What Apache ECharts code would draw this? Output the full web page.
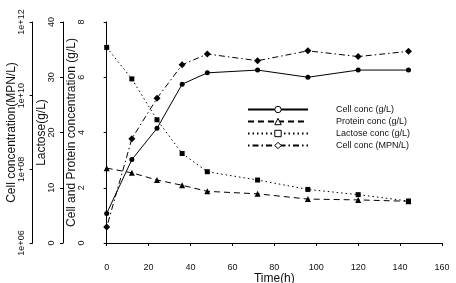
<!DOCTYPE html>
<html>
<head>
<meta charset="utf-8">
<script src="https://cdn.jsdelivr.net/npm/echarts@6/dist/echarts.min.js"></script>
<style>
  html, body { margin: 0; padding: 0; background: #fff; }
  #main { width: 456px; height: 283px; }
</style>
</head>
<body>
<div id="main"></div>
<script>
// time points (h)
var hours = [0, 12, 24, 36, 48, 72, 96, 120, 144];
// cell conc (g/L) - inner axis
var cellGL = [1.07, 3.02, 4.15, 5.75, 6.16, 6.26, 6.0, 6.26, 6.26];
// protein conc (g/L) - inner axis
var proteinGL = [2.71, 2.54, 2.28, 2.09, 1.87, 1.78, 1.59, 1.56, 1.51];
// lactose conc (g/L) - middle axis
var lactoseGL = [35.4, 29.7, 22.3, 16.2, 12.9, 11.4, 9.7, 8.75, 7.6];
// cell conc (MPN/L) - outer log axis
var cellMPN = [2.7e6, 6.8e8, 8.5e9, 6.9e10, 1.35e11, 8.9e10, 1.65e11, 1.15e11, 1.6e11];

var seriesNames = ['Cell conc (g/L)', 'Protein conc (g/L)', 'Lactose conc (g/L)', 'Cell conc (MPN/L)'];

function pairs(ys) {
    return hours.map(function (h, i) { return [h, ys[i]]; });
}

var font = 'Liberation Sans, Arial, sans-serif';
var ink = '#000';

function yAxis(offset, extra) {
    var a = {
        type: 'value',
        position: 'left',
        offset: offset,
        nameLocation: 'middle',
        nameRotate: 90,
        nameGap: 15,
        nameMoveOverlap: false,
        nameTextStyle: { fontFamily: font, fontSize: 12, color: '#111' },
        axisLine: { show: true, lineStyle: { color: ink, width: 1 } },
        axisTick: { show: true, length: 3, lineStyle: { color: ink } },
        axisLabel: { rotate: 90, margin: 7, fontFamily: font, fontSize: 9, color: '#111' },
        splitLine: { show: false }
    };
    for (var k in extra) a[k] = extra[k];
    return a;
}

var chart = echarts.init(document.getElementById('main'), null, { renderer: 'canvas' });

chart.setOption({
    animation: false,
    backgroundColor: '#fff',
    grid: { left: 106.7, right: 14, top: 22, bottom: 40, containLabel: false, outerBoundsMode: 'none' },
    legend: {
        orient: 'vertical',
        left: 242,
        top: 100,
        itemWidth: 60,
        itemHeight: 8,
        itemGap: 3,
        textStyle: { fontFamily: font, fontSize: 9, color: '#111', padding: [0, 0, 0, 23] },
        data: seriesNames.map(function (n) {
            return { name: n, itemStyle: { color: '#fff', borderColor: ink, borderWidth: 1 } };
        })
    },
    xAxis: {
        type: 'value',
        min: 0,
        max: 160,
        interval: 20,
        offset: 10,
        name: 'Time(h)',
        nameLocation: 'middle',
        nameGap: 20,
        nameMoveOverlap: false,
        nameTextStyle: { fontFamily: font, fontSize: 12, color: '#111' },
        axisLine: { show: true, lineStyle: { color: ink, width: 1 } },
        axisTick: { show: true, length: 3, lineStyle: { color: ink } },
        axisLabel: { margin: 10, fontFamily: font, fontSize: 9, color: '#111' },
        splitLine: { show: false }
    },
    yAxis: [
        yAxis(14, { min: 0, max: 8, interval: 2, name: 'Cell and Protein concentration (g/L)' }),
        yAxis(43.7, { min: 0, max: 40, interval: 10, name: 'Lactose(g/L)' }),
        yAxis(74, {
            type: 'log', logBase: 10, min: 1e6, max: 1e12, interval: 2,
            name: 'Cell concentration(MPN/L)',
            axisLabel: {
                rotate: 90, margin: 7, fontFamily: font, fontSize: 9, color: '#111',
                formatter: function (v) {
                    var e = Math.round(Math.log(v) / Math.LN10);
                    return '1e+' + (e < 10 ? '0' + e : e);
                }
            }
        })
    ],
    series: [
        {
            name: seriesNames[0], type: 'line', yAxisIndex: 0, data: pairs(cellGL),
            symbol: 'circle', symbolSize: 5,
            itemStyle: { color: ink },
            lineStyle: { color: ink, width: 1, type: 'solid' }
        },
        {
            name: seriesNames[1], type: 'line', yAxisIndex: 0, data: pairs(proteinGL),
            symbol: 'triangle', symbolSize: 6,
            itemStyle: { color: ink },
            lineStyle: { color: ink, width: 1, type: [6, 4] }
        },
        {
            name: seriesNames[2], type: 'line', yAxisIndex: 1, data: pairs(lactoseGL),
            symbol: 'rect', symbolSize: 5,
            itemStyle: { color: ink },
            lineStyle: { color: ink, width: 1, type: [1.5, 3] }
        },
        {
            name: seriesNames[3], type: 'line', yAxisIndex: 2, data: pairs(cellMPN),
            symbol: 'diamond', symbolSize: 7,
            itemStyle: { color: ink },
            lineStyle: { color: ink, width: 1, type: [1.5, 3, 6, 3] }
        }
    ]
});
</script>
</body>
</html>
